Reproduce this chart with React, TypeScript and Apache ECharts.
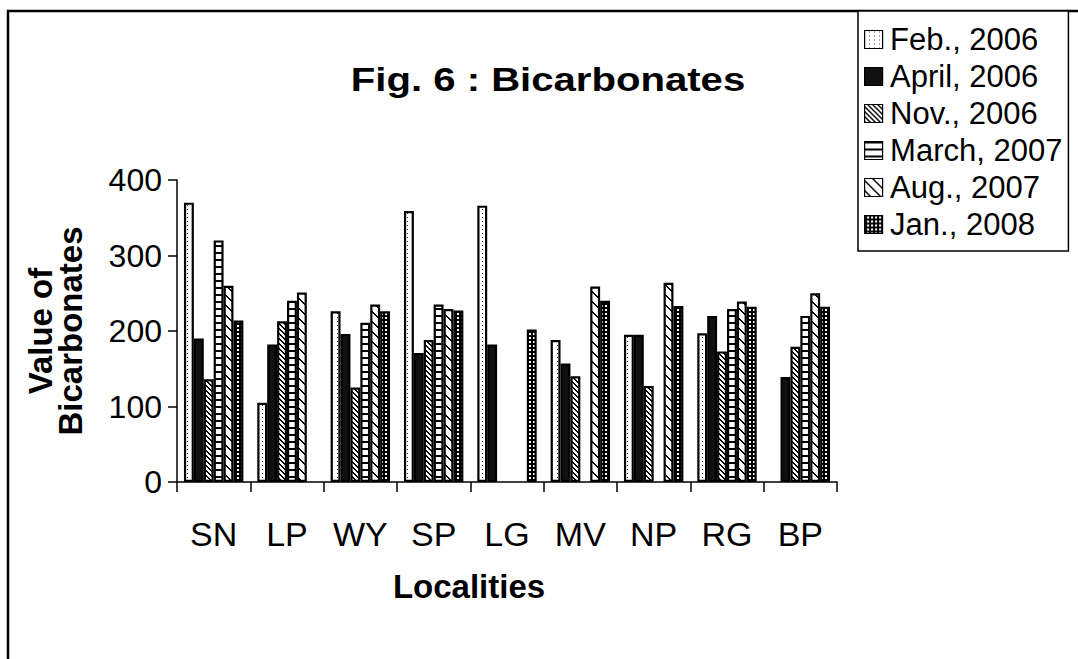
import React, { useEffect, useRef } from "react";
import * as echarts from "echarts";

const categories = ["SN", "LP", "WY", "SP", "LG", "MV", "NP", "RG", "BP"];
const seriesNames = ["Feb., 2006", "April, 2006", "Nov., 2006", "March, 2007", "Aug., 2007", "Jan., 2008"];
const feb2006 = [370, 105, 226, 359, 366, 188, 195, 197, null];
const apr2006 = [190, 182, 196, 171, 182, 157, 195, 220, 139];
const nov2006 = [136, 213, 125, 188, null, 140, 127, 173, 179];
const mar2007 = [320, 240, 211, 235, null, null, null, 229, 220];
const aug2007 = [260, 251, 235, 229, null, 259, 264, 239, 250];
const jan2008 = [214, null, 226, 227, 202, 240, 233, 232, 232];
const yTicks = [0, 100, 200, 300, 400];

const FONT = "'Liberation Sans', Arial, Helvetica, sans-serif";

function makePattern(w: number, h: number, isBlack: (x: number, y: number) => boolean, dark = "#000") {
  const c = document.createElement("canvas");
  c.width = w;
  c.height = h;
  const ctx = c.getContext("2d")!;
  ctx.fillStyle = "#fff";
  ctx.fillRect(0, 0, w, h);
  ctx.fillStyle = dark;
  for (let y = 0; y < h; y++) {
    for (let x = 0; x < w; x++) {
      if (isBlack(x, y)) ctx.fillRect(x, y, 1, 1);
    }
  }
  return { image: c.toDataURL(), repeat: "repeat", imageWidth: w, imageHeight: h } as any;
}

const mod = (a: number, n: number) => ((a % n) + n) % n;

export default function App() {
  const ref = useRef<HTMLDivElement>(null);
  useEffect(() => {
    if (!ref.current) return;
    const chart = echarts.init(ref.current, undefined, { renderer: "svg" });

    const patterns: any[] = [
      makePattern(5, 4, (x, y) => x === 2 && y === 1, "#333"),
      "#111",
      makePattern(5, 5, (x, y) => mod(x - y, 5) < 2),
      makePattern(4, 7, (x, y) => y < 2),
      makePattern(10, 10, (x, y) => mod(x - y, 10) < 2),
      makePattern(4, 4, (x, y) => !(x >= 1 && x <= 2 && y >= 1 && y <= 2)),
    ];
    const dataSets = [feb2006, apr2006, nov2006, mar2007, aug2007, jan2008];

    const option: any = {
      animation: false,
      backgroundColor: "#fff",
      textStyle: { fontFamily: FONT, color: "#000" },
      grid: { left: 177, right: 1078 - 837, top: 180, bottom: 659 - 482 },
      legend: {
        orient: "vertical",
        left: 858,
        top: 11,
        padding: [13, 6, 11, 6],
        itemWidth: 23,
        itemHeight: 18,
        itemGap: 6,
        icon: "path://M0,0H10V10H0Z",
        borderColor: "#000",
        borderWidth: 1.5,
        backgroundColor: "#fff",
        textStyle: { fontSize: 31, color: "#000", fontFamily: FONT },
        itemStyle: { borderColor: "#000", borderWidth: 1.2 },
        data: seriesNames,
      },
      xAxis: {
        type: "category",
        data: categories,
        axisLine: { lineStyle: { color: "#000", width: 1.5 } },
        axisTick: { show: true, length: 10, lineStyle: { color: "#000", width: 1.5 } },
        axisLabel: { fontSize: 34, color: "#000", margin: 35, fontFamily: FONT },
        name: "Localities",
        nameLocation: "middle",
        nameGap: 88,
        nameTextStyle: {
          fontSize: 33,
          fontWeight: "bold",
          color: "#000",
          fontFamily: FONT,
          padding: [0, 76, 0, 0],
        },
      },
      yAxis: {
        type: "value",
        min: yTicks[0],
        max: yTicks[yTicks.length - 1],
        interval: yTicks[1] - yTicks[0],
        splitLine: { show: false },
        axisLine: { show: true, lineStyle: { color: "#000", width: 1.5 } },
        axisTick: { show: true, length: 9, lineStyle: { color: "#000", width: 1.5 } },
        axisLabel: { fontSize: 32, margin: 15, color: "#000", fontFamily: FONT },
        name: "Value of\nBicarbonates",
        nameLocation: "middle",
        nameRotate: 90,
        nameGap: 92,
        nameTextStyle: { fontSize: 33, fontWeight: "bold", lineHeight: 30, color: "#000", fontFamily: FONT },
      },
      series: seriesNames.map((name, i) => ({
        name,
        type: "bar",
        data: dataSets[i],
        barGap: "0%",
        barCategoryGap: "19%",
        itemStyle: { color: patterns[i], borderColor: "#000", borderWidth: 2.2 },
        emphasis: { disabled: true },
      })),
      graphic: [
        {
          type: "rect",
          z: -1,
          shape: { x: 8, y: 11, width: 1200, height: 800 },
          style: { fill: "none", stroke: "#000", lineWidth: 2.5 },
          silent: true,
        },
        {
          type: "text",
          x: 548,
          y: 79,
          scaleX: 1.18,
          style: {
            text: "Fig. 6 : Bicarbonates",
            font: `bold 34px ${FONT}`,
            fill: "#000",
            textAlign: "center",
            textVerticalAlign: "middle",
          },
          silent: true,
        },
      ],
    };
    chart.setOption(option);
    return () => chart.dispose();
  }, []);
  return (
    <div
      ref={ref}
      style={{ position: "fixed", left: 0, top: 0, width: 1078, height: 659, background: "#fff" }}
    />
  );
}
